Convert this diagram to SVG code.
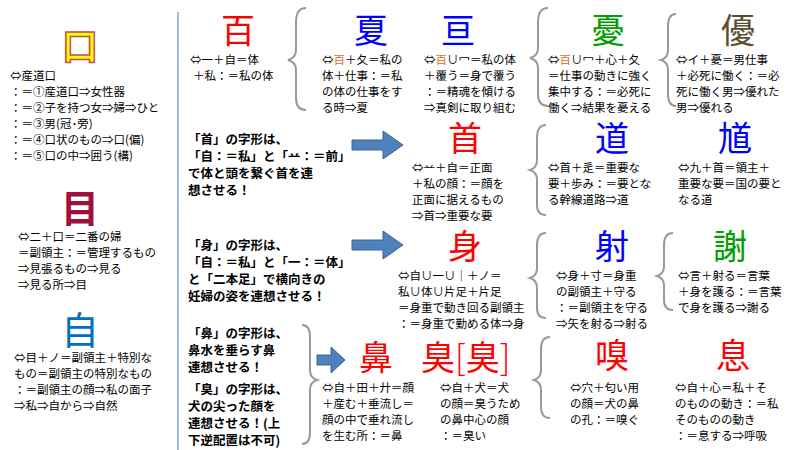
<svg xmlns="http://www.w3.org/2000/svg" width="800" height="450" viewBox="0 0 800 450">
<style>
text{font-family:"Noto Sans CJK JP","Noto Sans CJK SC",sans-serif;}
.t{font-size:11.5px;fill:#000}
.b{font-size:12.5px;font-weight:bold;fill:#000}
.k{font-size:34px;text-anchor:middle}
.br{fill:none;stroke:#999;stroke-width:2}
.ar{fill:#4f81bd;stroke:#3a6491;stroke-width:1}
</style>
<rect width="800" height="450" fill="#fff"/>
<line x1="178" y1="12" x2="178" y2="450" stroke="#7aa7dc" stroke-width="1.5"/>
<g id="kuchi">
<text x="80" y="60" class="k" style="font-size:36px;fill:#ffff00;stroke:#c0504d;stroke-width:1.5;font-weight:bold">口</text>
<text class="t" x="10" y="80">⇔産道口</text>
<text class="t" x="10" y="96">：＝①産道口⇒女性器</text>
<text class="t" x="10" y="112">：＝②子を持つ女⇒婦⇒ひと</text>
<text class="t" x="10" y="128">：＝③男(冠･旁)</text>
<text class="t" x="10" y="144">：＝④口状のもの⇒口(偏)</text>
<text class="t" x="10" y="160">：＝⑤口の中⇒囲う(構)</text>
</g>
<g id="me">
<text x="80" y="222" class="k" style="font-size:38px;fill:#a0103c;font-weight:bold">目</text>
<text class="t" x="18" y="241">⇔二＋口＝二番の婦</text>
<text class="t" x="18" y="257">＝副領主：＝管理するもの</text>
<text class="t" x="18" y="273">⇒見張るもの⇒見る</text>
<text class="t" x="18" y="289">⇒見る所⇒目</text>
</g>
<g id="ji">
<text x="80" y="344" class="k" style="font-size:38px;fill:#0070c0">自</text>
<text class="t" x="14" y="362">⇔目＋ノ＝副領主＋特別な</text>
<text class="t" x="14" y="378">もの＝副領主の特別なもの</text>
<text class="t" x="14" y="394">：＝副領主の顔⇒私の面子</text>
<text class="t" x="14" y="410">⇒私⇒自から⇒自然</text>
</g>
<g id="connectors">
<path class="br" d="M306 8 Q296 8 296 22 L296 50 Q296 58 288 60 Q296 62 296 70 L296 98 Q296 110 306 110"/>
<path class="br" d="M548 8 Q538 8 538 22 L538 48 Q538 56 530 58 Q538 60 538 68 L538 94 Q538 106 548 106"/>
<path class="br" d="M676 14 Q668 14 668 26 L668 50 Q668 58 661 60 Q668 62 668 70 L668 94 Q668 106 676 106"/>
<path class="br" d="M546 125 Q537 125 537 138 L537 160 Q537 168 530 170 Q537 172 537 180 L537 205 Q537 215 546 215"/>
<path class="br" d="M546 233 Q537 233 537 245 L537 268 Q537 276 530 278 Q537 280 537 288 L537 308 Q537 318 546 318"/>
<path class="br" d="M673 233 Q664 233 664 245 L664 266 Q664 274 657 276 Q664 278 664 286 L664 300 Q664 310 673 310"/>
<path class="br" d="M302 325 Q310 325 310 337 L310 370 Q310 378 317 380 Q310 382 310 390 L310 432 Q310 444 302 444"/>
<path class="br" d="M550 337 Q541 337 541 349 L541 370 Q541 378 534 380 Q541 382 541 390 L541 407 Q541 418 550 418"/>
<path class="ar" d="M352 140 L383 140 L383 131 L403 145 L383 159 L383 150 L352 150 Z"/>
<path class="ar" d="M352 240 L383 240 L383 231 L403 245 L383 259 L383 250 L352 250 Z"/>
<path class="ar" d="M317 355 L331 355 L331 347 L345 360 L331 373 L331 365 L317 365 Z"/>
</g>
<g id="hyaku">
<text x="238" y="43" class="k" style="fill:#ff0000">百</text>
<text class="t" x="190" y="64">⇔一＋自＝体</text>
<text class="t" x="193" y="80">＋私：＝私の体</text>
</g>
<g id="natsu">
<text x="371" y="43" class="k" style="fill:#0000ff">夏</text>
<text class="t" x="322" y="64">⇔<tspan fill="#e07020">百</tspan>＋夂＝私の</text>
<text class="t" x="322" y="80">体＋仕事：＝私</text>
<text class="t" x="322" y="96">の体の仕事をす</text>
<text class="t" x="322" y="112">る時⇒夏</text>
</g>
<g id="shin">
<text x="458" y="43" class="k" style="fill:#0000ff">亘</text>
<text class="t" x="424" y="64">⇔<tspan fill="#e07020">百</tspan>∪冖＝私の体</text>
<text class="t" x="424" y="80">＋覆う＝身で覆う</text>
<text class="t" x="424" y="96">：＝精魂を傾ける</text>
<text class="t" x="424" y="112">⇒真剣に取り組む</text>
</g>
<g id="yuu">
<text x="608" y="43" class="k" style="fill:#00a000">憂</text>
<text class="t" x="548" y="64">⇔<tspan fill="#e07020">百</tspan>∪冖＋心＋夂</text>
<text class="t" x="548" y="80">＝仕事の動きに強く</text>
<text class="t" x="548" y="96">集中する：＝必死に</text>
<text class="t" x="548" y="112">働く⇒結果を憂える</text>
</g>
<g id="yuu2">
<text x="738" y="43" class="k" style="fill:#5a5030">優</text>
<text class="t" x="676" y="64">⇔イ＋憂＝男仕事</text>
<text class="t" x="676" y="80">＋必死に働く：＝必</text>
<text class="t" x="676" y="96">死に働く男⇒優れた</text>
<text class="t" x="676" y="112">男⇒優れる</text>
</g>
<g id="note-kubi">
<text class="b" x="188" y="144">「首」の字形は、</text>
<text class="b" x="188" y="161">「自：＝私」と「䒑：＝前」</text>
<text class="b" x="188" y="178">で体と頭を繋ぐ首を連</text>
<text class="b" x="188" y="195">想させる！</text>
</g>
<g id="kubi">
<text x="465" y="151" class="k" style="fill:#ff0000">首</text>
<text class="t" x="412" y="172">⇔䒑＋自＝正面</text>
<text class="t" x="412" y="188">＋私の顔：＝顔を</text>
<text class="t" x="412" y="204">正面に据えるもの</text>
<text class="t" x="412" y="220">⇒首⇒重要な要</text>
</g>
<g id="michi">
<text x="612" y="151" class="k" style="fill:#0000ff">道</text>
<text class="t" x="548" y="172">⇔首＋辵＝重要な</text>
<text class="t" x="548" y="188">要＋歩み：＝要とな</text>
<text class="t" x="548" y="204">る幹線道路⇒道</text>
</g>
<g id="ki">
<text x="735" y="151" class="k" style="fill:#0000ff">馗</text>
<text class="t" x="678" y="172">⇔九＋首＝領主＋</text>
<text class="t" x="678" y="188">重要な要＝国の要と</text>
<text class="t" x="678" y="204">なる道</text>
</g>
<g id="note-mi">
<text class="b" x="188" y="250">「身」の字形は、</text>
<text class="b" x="188" y="267">「自：＝私」と「一：＝体」</text>
<text class="b" x="188" y="284">と「二本足」で横向きの</text>
<text class="b" x="188" y="301">妊婦の姿を連想させる！</text>
</g>
<g id="mi">
<text x="465" y="259" class="k" style="fill:#ff0000">身</text>
<text class="t" x="398" y="280">⇔自∪一∪｜＋ノ＝</text>
<text class="t" x="398" y="296">私∪体∪片足＋片足</text>
<text class="t" x="398" y="312">＝身重で動き回る副領主</text>
<text class="t" x="398" y="328">：＝身重で勤める体⇒身</text>
</g>
<g id="iru">
<text x="612" y="259" class="k" style="fill:#0000ff">射</text>
<text class="t" x="556" y="280">⇔身＋寸＝身重</text>
<text class="t" x="556" y="296">の副領主＋守る</text>
<text class="t" x="556" y="312">：＝副領主を守る</text>
<text class="t" x="556" y="328">⇒矢を射る⇒射る</text>
</g>
<g id="sha">
<text x="730" y="259" class="k" style="fill:#00a000">謝</text>
<text class="t" x="678" y="280">⇔言＋射る＝言葉</text>
<text class="t" x="678" y="296">＋身を護る：＝言葉</text>
<text class="t" x="678" y="312">で身を護る⇒謝る</text>
</g>
<g id="note-hana">
<text class="b" x="188" y="338">「鼻」の字形は、</text>
<text class="b" x="188" y="355">鼻水を垂らす鼻</text>
<text class="b" x="188" y="372">連想させる！</text>
<text class="b" x="188" y="394">「臭」の字形は、</text>
<text class="b" x="188" y="411">犬の尖った顔を</text>
<text class="b" x="188" y="428">連想させる！(上</text>
<text class="b" x="188" y="445">下逆配置は不可)</text>
</g>
<g id="hana">
<text x="376" y="370" class="k" style="fill:#ff0000">鼻</text>
<text class="t" x="322" y="392">⇔自＋田＋廾＝顔</text>
<text class="t" x="322" y="408">＋産む＋垂流し＝</text>
<text class="t" x="322" y="424">顔の中で垂れ流し</text>
<text class="t" x="322" y="440">を生む所：＝鼻</text>
</g>
<g id="kusai">
<text x="421" y="370" style="font-size:34px;fill:#ff0000">臭<tspan style="font-weight:300">[</tspan>臭<tspan style="font-weight:300">]</tspan></text>
<text class="t" x="440" y="392">⇔自＋犬＝犬</text>
<text class="t" x="440" y="408">の顔＝臭うため</text>
<text class="t" x="440" y="424">の鼻中心の顔</text>
<text class="t" x="440" y="440">：＝臭い</text>
</g>
<g id="kagu">
<text x="612" y="368" class="k" style="fill:#ff0000">嗅</text>
<text class="t" x="570" y="392">⇔穴＋匂い用</text>
<text class="t" x="570" y="408">の顔＝犬の鼻</text>
<text class="t" x="570" y="424">の孔：＝嗅ぐ</text>
</g>
<g id="iki">
<text x="733" y="368" class="k" style="fill:#ff0000">息</text>
<text class="t" x="675" y="392">⇔自＋心＝私＋そ</text>
<text class="t" x="675" y="408">のものの動き：＝私</text>
<text class="t" x="675" y="424">そのものの動き</text>
<text class="t" x="675" y="440">：＝息する⇒呼吸</text>
</g>
</svg>
